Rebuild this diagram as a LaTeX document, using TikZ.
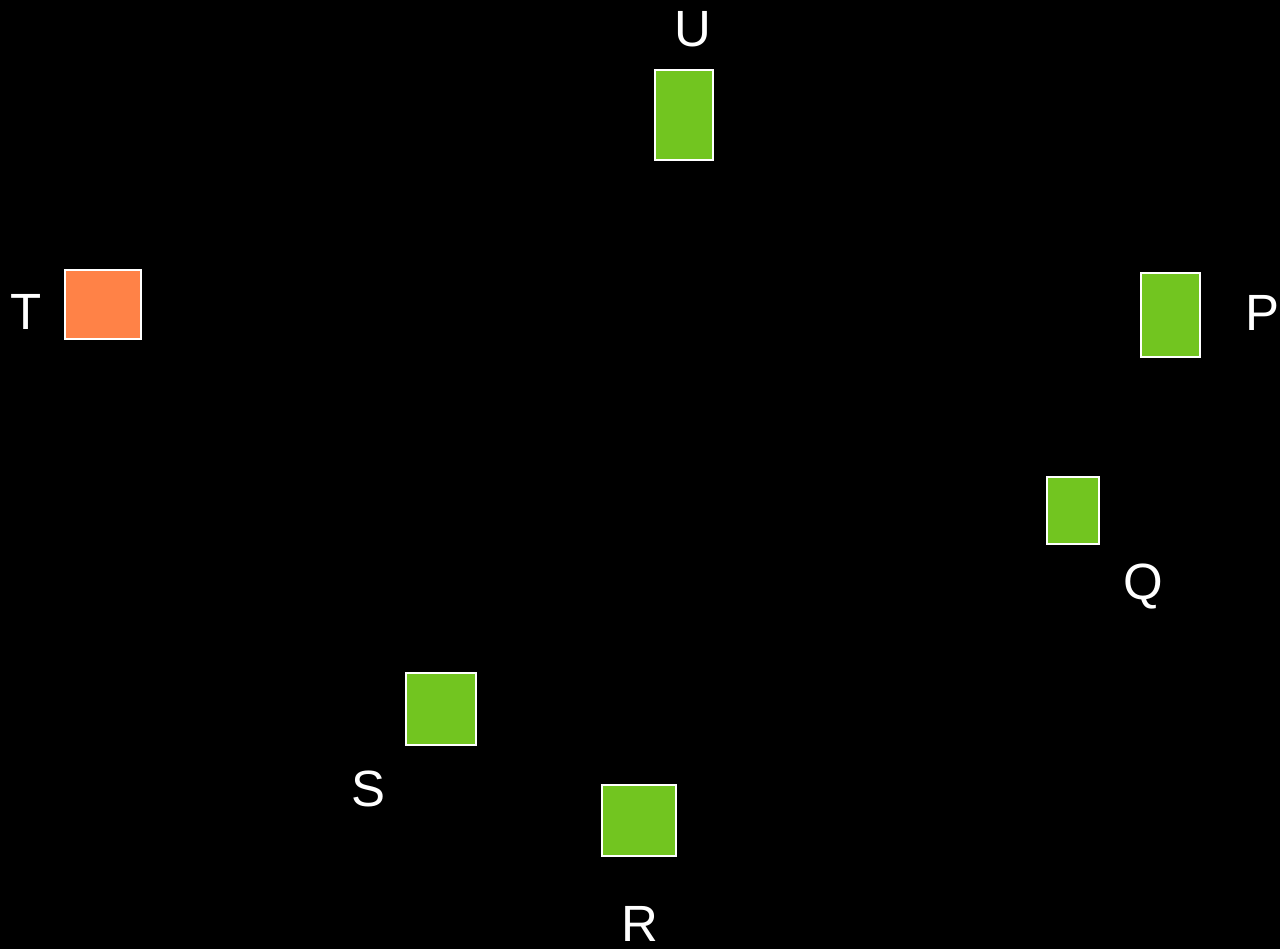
\documentclass[tikz,border=0pt]{standalone}
\usepackage{fontspec}
\setmainfont{Liberation Sans}
\usepackage{xcolor}
\usepackage{tikz}
\usetikzlibrary{positioning}
\definecolor{cGreen}{HTML}{72C520}
\definecolor{cOrange}{HTML}{FF8247}
\tikzset{
  blk/.style={draw=white,fill=#1,line width=1.1pt,inner sep=0pt},
  blk/.default=cGreen,
  tag/.style={text=white,inner sep=0pt,font=\fontsize{29}{32}\selectfont},
}

\begin{document}
\begin{tikzpicture}[x=0.02cm,y=-0.02cm]
  \fill[black] (0,0) rectangle (1280,949);
  \useasboundingbox (0,0) rectangle (1280,949);
  % blocks
  \node[blk,minimum width=1.16cm,minimum height=1.80cm] (u) at (684,115) {};
  \node[blk=cOrange,minimum width=1.52cm,minimum height=1.38cm] (t) at (103,304.5) {};
  \node[blk,minimum width=1.18cm,minimum height=1.68cm] (p) at (1170.5,315) {};
  \node[blk,minimum width=1.04cm,minimum height=1.34cm] (q) at (1073,510.5) {};
  \node[blk,minimum width=1.40cm,minimum height=1.44cm] (s) at (441,709) {};
  \node[blk,minimum width=1.48cm,minimum height=1.42cm] (r) at (639,820.5) {};
  % labels
  \node[tag] (uLbl) at (693,29) {U};
  \node[tag] (tLbl) at (26,312) {T};
  \node[tag] (pLbl) at (1262,313) {P};
  \node[tag] (qLbl) at (1143,587) {Q};
  \node[tag] (sLbl) at (368,789) {S};
  \node[tag] (rLbl) at (640,924) {R};
\end{tikzpicture}
\end{document}
